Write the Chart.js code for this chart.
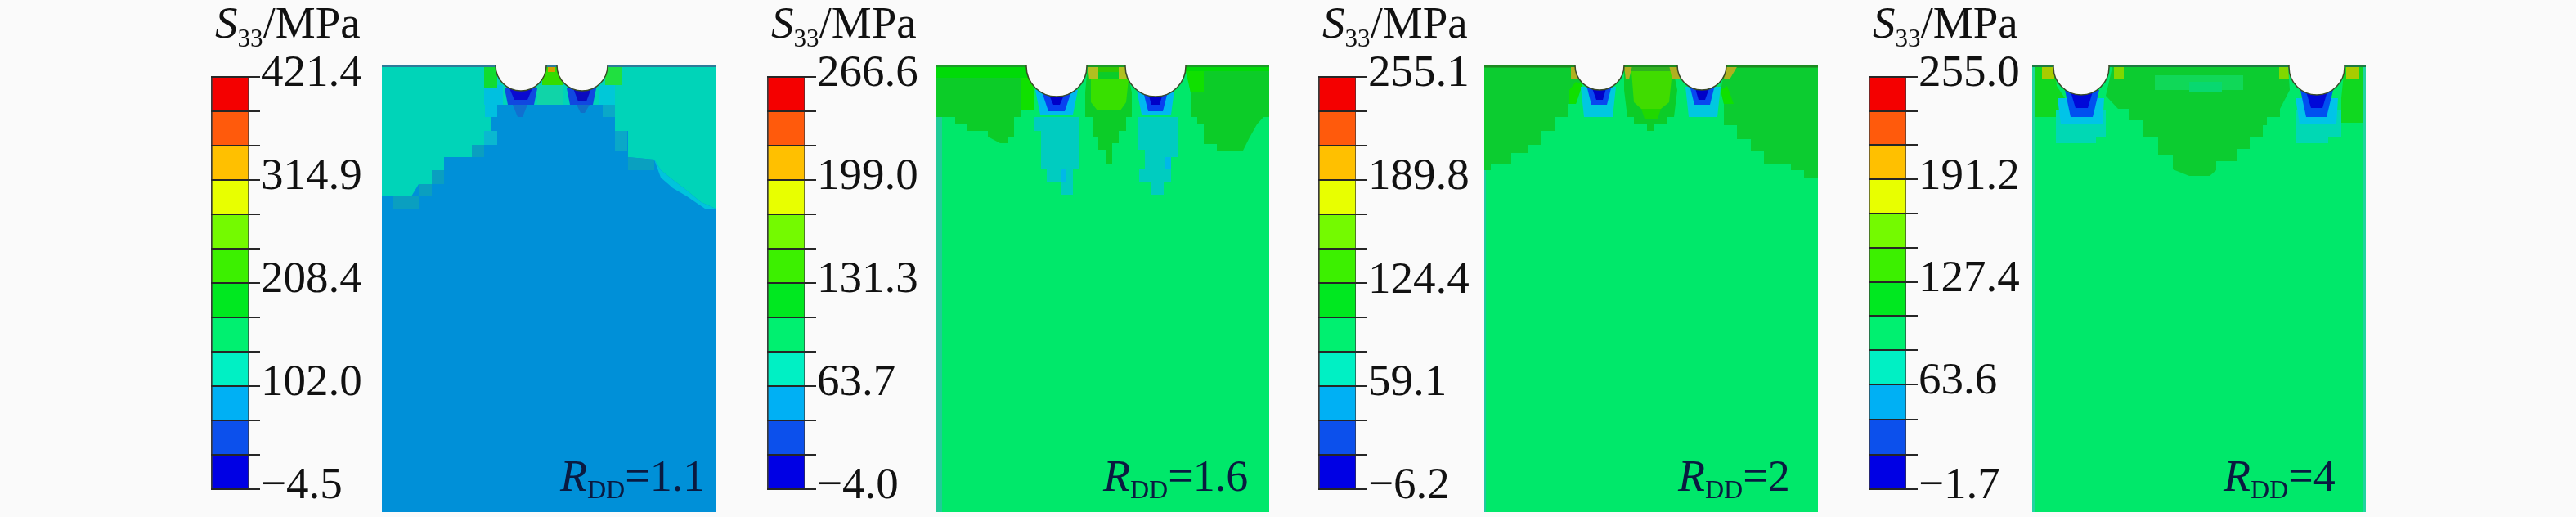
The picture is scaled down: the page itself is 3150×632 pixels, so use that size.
<!DOCTYPE html>
<html><head><meta charset="utf-8">
<script src="https://cdn.jsdelivr.net/npm/chart.js@4/dist/chart.umd.min.js"></script>
<style>
html,body{margin:0;padding:0;background:#fafafa;width:3150px;height:632px;overflow:hidden}
canvas{position:absolute;top:0;filter:blur(0.7px)}
</style></head><body>
<script>
// ---------- colour bars ----------
const bandColors=['#0000e4','#0c50ec','#00b0f4','#00f0c4','#00f070','#00e820','#3cf000','#74fa00','#e8ff00','#ffc000','#ff5a0c','#f40000'];
const levelsA=[-4.5,31,66.5,102.0,137.5,173,208.4,243.9,279.4,314.9,350.4,385.9,421.4];
const levelsB=[-4.0,18.6,41.1,63.7,86.2,108.8,131.3,153.9,176.4,199.0,221.5,244.1,266.6];
const levelsC=[-6.2,15.6,37.4,59.1,80.9,102.7,124.4,146.2,168,189.8,211.6,233.3,255.1];
const levelsD=[-1.7,19.5,41.5,63.6,85,106.2,127.4,148.7,170,191.2,212.5,233.8,255.0];
const tickLabelsA=['−4.5','','','102.0','','','208.4','','','314.9','','','421.4'];
const tickLabelsB=['−4.0','','','63.7','','','131.3','','','199.0','','','266.6'];
const tickLabelsC=['−6.2','','','59.1','','','124.4','','','189.8','','','255.1'];
const tickLabelsD=['−1.7','','','63.6','','','127.4','','','191.2','','','255.0'];

// ---------- stress regions: outlines in model units (width 408, depth 546) ----------
const regionsA=[
 [[0,0],[125,0],[125,80],[133,80],[133,63],[126,63],[126,48],[285,48],[285,80],[301,80],[301,112],[333,115],[341,128],[356,140],[373,153],[390,167],[408,175],[408,0]],
 [[0,0],[125,0],[125,97],[110,97],[110,112],[76,112],[76,128],[61,128],[61,145],[45,145],[36,160],[0,160]],
 [[13,160],[45,160],[45,175],[13,175]],[[45,145],[61,145],[61,160],[45,160]],[[61,128],[76,128],[76,145],[61,145]],
 [[110,97],[125,97],[125,112],[110,112]],[[125,80],[141,80],[141,97],[125,97]],
 [[301,112],[333,115],[333,128],[301,128]],[[126,48],[141,48],[141,63],[126,63]],[[270,48],[285,48],[285,63],[270,63]],
 [[285,80],[300,80],[300,105],[285,105]],
 [[333,115],[341,128],[356,140],[373,153],[390,167],[408,175],[395,175],[373,160],[356,150],[341,137]],
 [[125,24],[148,24],[148,48],[125,48]],[[190,24],[222,24],[222,48],[190,48]],[[265,24],[285,24],[285,48],[265,48]],
 [[125,0],[141,0],[141,27],[125,27]],[[196,0],[222,0],[222,24],[196,24]],[[273,0],[293,0],[293,24],[273,24]],
 [[203,0],[212,0],[212,8],[203,8]],
 [[150,28],[190,28],[186,48],[154,48]],[[226,28],[262,28],[258,48],[230,48]],
 [[160,48],[178,48],[172,63],[166,63]],[[238,48],[254,48],[248,58],[243,58]],
 [[156,28],[184,28],[178,42],[162,42]],[[234,28],[256,28],[250,44],[240,44]]
];
const fillsA=['#00d4b8','#00d4b8','#0a9fc0','#0a9fc0','#0a9fc0','#0a9fc0','#0ab8d0','#0aa0c0','#00c0e0','#0aa8c8','#0aa8c8','#00c4dc','#00c0e0','#10d4a8','#00c8d8','#10dc30','#34dc00','#20e040','#d0a000','#1048e0','#1048e0','#1070d0','#1070c8','#0a0ad0','#0a0ac0'];

const regionsB=[
 [[0,0],[111,0],[121,33],[121,55],[104,55],[104,63],[96,63],[96,87],[88,87],[88,95],[79,95],[64,87],[64,80],[39,80],[39,72],[24,72],[24,63],[0,63]],
 [[0,0],[111,0],[114,15],[0,15]],[[104,15],[119,15],[121,55],[104,55]],
 [[183,33],[183,63],[193,63],[193,87],[199,87],[199,103],[208,103],[208,120],[216,120],[216,95],[224,95],[224,80],[233,80],[233,63],[240,63],[240,33],[233,0],[186,0]],
 [[190,17],[236,17],[233,45],[226,55],[198,55],[190,45]],
 [[186,0],[199,0],[199,17],[188,17]],[[224,0],[233,0],[234,17],[224,17]],[[199,0],[224,0],[224,8],[199,8]],
 [[306,0],[312,33],[312,63],[320,63],[320,72],[328,72],[328,96],[344,96],[344,104],[376,104],[384,88],[393,72],[401,63],[408,63],[408,0]],
 [[304,0],[408,0],[408,7],[304,7]],[[306,7],[328,7],[328,33],[312,33]],
 [[121,63],[121,80],[129,80],[129,127],[136,127],[136,143],[153,143],[153,158],[168,158],[168,127],[176,127],[176,63]],
 [[248,63],[248,103],[256,103],[256,127],[249,127],[249,143],[264,143],[264,158],[279,158],[279,143],[288,143],[288,112],[296,112],[296,63]],
 [[153,127],[160,127],[160,143],[153,143]],[[288,112],[280,112],[280,127],[288,127]],
 [[122,30],[174,30],[168,60],[128,60]],[[246,30],[292,30],[288,60],[252,60]],
 [[130,32],[166,32],[158,56],[138,56]],[[254,32],[284,32],[278,56],[260,56]],
 [[138,34],[158,34],[152,48],[144,48]],[[260,34],[278,34],[274,48],[264,48]],
 [[0,63],[8,63],[8,546],[0,546]]
];
const fillsB=['#0ccc28','#00da08','#10e000','#0ccc28','#38e000','#b0c020','#b0c020','#30c800','#0ccc28','#00da08','#10e000','#00ccc0','#00ccc0','#00b8e8','#00b8e8','#00b8f0','#00b8f0','#0840f0','#0840f0','#0000c8','#0000c8','#20cc98'];

const regionsC=[
 [[0,0],[112,0],[120,23],[112,47],[102,47],[102,63],[87,63],[87,80],[69,80],[69,97],[53,97],[53,107],[33,107],[33,120],[8,120],[8,128],[0,128]],
 [[295,0],[408,0],[408,137],[391,137],[391,128],[375,128],[375,120],[342,120],[342,105],[326,105],[326,90],[309,90],[309,73],[293,73],[293,47],[289,30]],
 [[171,30],[175,63],[183,63],[183,72],[199,72],[199,80],[208,80],[208,72],[224,72],[224,63],[232,63],[236,30],[230,0],[171,0]],
 [[180,7],[230,7],[226,45],[216,53],[192,53],[183,45]],[[192,53],[216,53],[212,65],[196,65]],
 [[112,20],[120,23],[112,47],[104,47],[104,30]],[[289,30],[297,25],[305,47],[293,47]],
 [[0,0],[112,0],[112,3],[0,3]],[[295,0],[408,0],[408,3],[295,3]],[[171,0],[236,0],[236,7],[171,7]],
 [[106,0],[112,0],[117,17],[106,17]],[[171,0],[181,0],[177,17],[173,17]],[[226,0],[236,0],[240,17],[230,17]],[[295,0],[310,0],[300,17],[293,17]],
 [[118,26],[161,26],[157,63],[122,63]],[[246,26],[289,26],[285,63],[250,63]],
 [[126,28],[155,28],[150,48],[131,48]],[[252,28],[281,28],[276,48],[257,48]],
 [[132,28],[149,28],[145,42],[137,42]],[[258,28],[275,28],[270,42],[262,42]],
 [[0,128],[2,128],[2,546],[0,546]]
];
const fillsC=['#0ccc30','#0ccc30','#0ccc28','#40dc00','#20d800','#10e000','#10e000','#18a828','#18a828','#30b020','#b0b020','#b0b020','#b0b020','#b0b020','#00c8e0','#00c8e0','#0848f0','#0848f0','#0000c8','#0000c8','#20c8a0'];

const regionsD=[
 [[98,2],[313,2],[315,30],[303,53],[303,63],[287,63],[287,73],[282,73],[282,88],[266,88],[266,102],[250,102],[250,117],[225,117],[225,128],[217,135],[192,135],[172,127],[172,110],[154,110],[154,87],[135,87],[135,67],[119,67],[119,53],[105,53],[90,37]],
 [[150,12],[258,12],[258,30],[150,30]],[[192,20],[232,20],[232,32],[192,32]],
 [[100,2],[112,2],[112,17],[100,17]],[[302,2],[313,2],[314,17],[302,17]],
 [[0,0],[27,0],[30,25],[40,40],[40,63],[0,63]],[[12,2],[27,2],[27,17],[12,17]],
 [[382,0],[408,0],[408,70],[378,70],[378,40]],[[384,2],[400,2],[400,17],[384,17]],
 [[29,55],[90,55],[90,87],[78,87],[78,95],[29,95]],[[323,55],[378,55],[378,87],[362,87],[362,95],[323,95]],
 [[31,40],[88,40],[86,72],[35,72]],[[322,40],[374,40],[372,72],[327,72]],
 [[40,30],[82,30],[74,63],[47,63]],[[328,30],[368,30],[360,63],[335,63]],
 [[47,32],[74,32],[68,52],[53,52]],[[335,32],[361,32],[355,52],[341,52]],
 [[0,0],[4,0],[4,546],[0,546]],[[404,0],[408,0],[408,546],[404,546]]
];
const fillsD=['#0ccc30','#10d858','#08d870','#80d800','#80d800','#10d820','#a8cc00','#10d820','#a8cc00','#00d8b4','#00d8b4','#00c4e8','#00c4e8','#0050f0','#0050f0','#0008d8','#0008d8','#20d4a0','#20d4a0'];

// ---------- notches (centre x, centre y in model units) and radii ----------
const notchesA=[[170,0],[245,0]];
const notchesB=[[148,1],[269,1]];
const notchesC=[[141,0],[266,0]];
const notchesD=[[60,2],[348,2]];
const notchRadius=[31,37,30,34];
const baseFills=['#0090d8','#00e86a','#00e86a','#00e86a'];
const edgeColors=['#2c7a98','#1c9a28','#1c8a20','#1c7a40'];
const caseValues=['1.1','1.6','2','4'];

// ---------- layout ----------
const barLeft=[258,938,1612,2285];
const panelLeft=[467,1144,1815,2485];
const labelLeft=[218,205,237,234];
const FONT='"Liberation Serif"';

const richText=(ctx,x,y,runs)=>{
  ctx.save();ctx.textBaseline='alphabetic';ctx.textAlign='left';
  for(const r of runs){
    ctx.font=`${r.i?'italic ':''}${r.s}px ${FONT}`;ctx.fillStyle=r.c;
    ctx.fillText(r.t,x,y+(r.d||0));
    x+=ctx.measureText(r.t).width+(r.g||0);
  }
  ctx.restore();
};

function makeCanvas(left,w){
  const c=document.createElement('canvas');
  c.style.left=left+'px';c.style.width=w+'px';c.style.height='632px';
  c.width=w;c.height=632;document.body.appendChild(c);return c;
}

function colorBar(i,levels,labels){
  const bands=bandColors.map((col,k)=>({
    label:'band'+k,data:[[levels[k],levels[k+1]]],backgroundColor:col,
    borderColor:'#3a3a3a',borderWidth:{left:2,right:1,top:0,bottom:0},borderSkipped:false,
    barPercentage:1,categoryPercentage:1,grouped:false
  }));
  new Chart(makeCanvas(barLeft[i],200),{
    type:'bar',
    data:{labels:['S33'],datasets:bands},
    options:{
      responsive:false,animation:false,devicePixelRatio:1,
      layout:{padding:{top:94,bottom:32,left:0,right:0}},
      plugins:{legend:{display:false},tooltip:{enabled:false},
        barTitle:{}},
      scales:{
        x:{display:false},
        y:{position:'right',min:levels[0],max:levels[12],
          afterBuildTicks:s=>{s.ticks=levels.map(v=>({value:v}));},
          afterFit:s=>{s.width=154;},
          grid:{color:'#262626',lineWidth:2,tickLength:14,z:1,drawOnChartArea:true},
          border:{display:false},
          ticks:{autoSkip:false,padding:1,labelOffset:-3,color:'#111',maxRotation:0,
            font:{family:FONT,size:55},
            callback:(v,k)=>labels[k]}
        }
      }
    },
    plugins:[{id:'barTitle',afterDraw(ch){
      richText(ch.ctx,5,46,[
        {t:'S',i:1,s:55,c:'#111'},
        {t:'33',s:31,c:'#111',d:11},
        {t:'/MPa',s:55,c:'#111'}]);
    }}]
  });
}

function panel(i,regions,fills,notches){
  const list=[];
  list.push({label:'base',data:[{x:0,y:0},{x:408,y:0},{x:408,y:546},{x:0,y:546}],showLine:true,fill:'shape',
    backgroundColor:baseFills[i],borderWidth:0,pointRadius:0});
  regions.forEach((r,k)=>list.push({label:'region'+k,data:r.map(p=>({x:p[0],y:p[1]})),showLine:true,fill:'shape',
    backgroundColor:fills[k],borderWidth:0,pointRadius:0,tension:0}));
  list.push({label:'edge',data:[{x:0,y:0},{x:408,y:0}],showLine:true,fill:false,borderColor:edgeColors[i],borderWidth:4,pointRadius:0});
  list.push({label:'notch',data:notches.map(n=>({x:n[0],y:n[1]})),showLine:false,
    pointRadius:notchRadius[i],pointBackgroundColor:'#fafafa',pointBorderColor:'#3a4a28',pointBorderWidth:1.5,clip:0});
  new Chart(makeCanvas(panelLeft[i],408),{
    type:'scatter',
    data:{datasets:list.reverse()},
    options:{
      responsive:false,animation:false,devicePixelRatio:1,
      layout:{autoPadding:false,padding:{top:80,bottom:6,left:0,right:0}},
      plugins:{legend:{display:false},tooltip:{enabled:false},filler:{propagate:false}},
      scales:{
        x:{display:false,type:'linear',min:0,max:408},
        y:{display:false,type:'linear',reverse:true,min:0,max:546}
      }
    },
    plugins:[{id:'caseLabel',afterDraw(ch){
      richText(ch.ctx,labelLeft[i],600,[
        {t:'R',i:1,s:54,c:'#0a1a40'},
        {t:'DD',s:32,c:'#0a1a40',d:9},
        {t:'='+caseValues[i],s:54,c:'#0a1a40'}]);
    }}]
  });
}

colorBar(0,levelsA,tickLabelsA);
colorBar(1,levelsB,tickLabelsB);
colorBar(2,levelsC,tickLabelsC);
colorBar(3,levelsD,tickLabelsD);
panel(0,regionsA,fillsA,notchesA);
panel(1,regionsB,fillsB,notchesB);
panel(2,regionsC,fillsC,notchesC);
panel(3,regionsD,fillsD,notchesD);
</script>
</body></html>
